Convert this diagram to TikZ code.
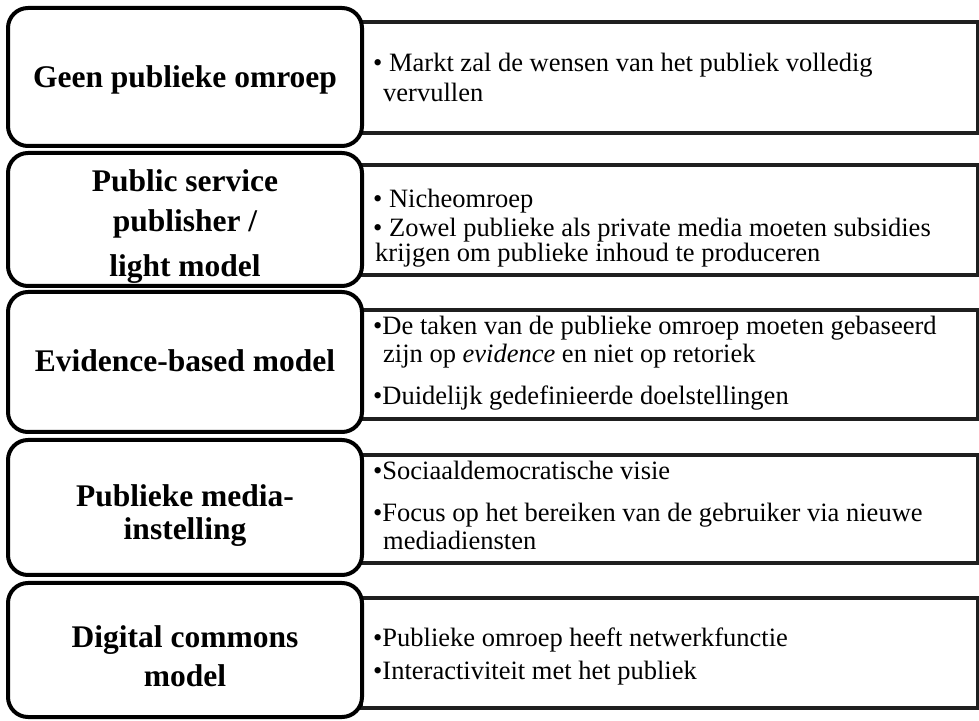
\documentclass[tikz,border=0pt]{standalone}
\usepackage{fontspec}
\setmainfont{Liberation Serif}
\begin{document}
\begin{tikzpicture}[x=1pt,y=1pt]
\tikzset{
  lbox/.style={draw=black, line width=4pt, rounded corners=20pt, fill=white,
               minimum width=354pt, inner sep=0pt, outer sep=0pt},
  rbox/.style={draw=black!88, line width=4pt, minimum width=617pt,
               inner sep=0pt, outer sep=0pt},
  ttl/.style={font=\bfseries\fontsize{31.5}{36}\selectfont, inner sep=0pt, anchor=base},
  txt/.style={font=\fontsize{26.5}{30}\selectfont, inner sep=0pt, anchor=base west},
}
\useasboundingbox (0,0) rectangle (979,720);

% right-hand description panels
\node[rbox, minimum height=111pt] (R1) at (669.5,642.5) {};
\node[rbox, minimum height=110pt] (R2) at (669.5,500) {};
\node[rbox, minimum height=109pt] (R3) at (669.5,355.5) {};
\node[rbox, minimum height=108pt] (R4) at (669.5,211) {};
\node[rbox, minimum height=110pt] (R5) at (669.5,67) {};

% left-hand model boxes
\node[lbox, minimum height=138pt] (L1) at (185,643) {};
\node[lbox, minimum height=133pt] (L2) at (185,500.5) {};
\node[lbox, minimum height=140pt] (L3) at (185,358) {};
\node[lbox, minimum height=135pt] (L4) at (185,212.5) {};
\node[lbox, minimum height=134pt] (L5) at (185,70) {};

% model names
\node[ttl] (t1) at (185,632) {Geen publieke omroep};
\node[ttl] (t2a) at (185,528) {Public service};
\node[ttl] (t2b) at (185,488) {publisher /};
\node[ttl] (t2c) at (185,443) {light model};
\node[ttl] (t3) at (185,348) {Evidence-based model};
\node[ttl] (t4a) at (185,213) {Publieke media-};
\node[ttl] (t4b) at (185,180) {instelling};
\node[ttl] (t5a) at (185,73) {Digital commons};
\node[ttl] (t5b) at (185,34) {model};

% descriptions
\node[txt] (d1a) at (373,648) {\textbullet\ Markt zal de wensen van het publiek volledig};
\node[txt] (d1b) at (383,618) {vervullen};

\node[txt] (d2a) at (373,512) {\textbullet\ Nicheomroep};
\node[txt] (d2b) at (373,483) {\textbullet\ Zowel publieke als private media moeten subsidies};
\node[txt] (d2c) at (375,458) {krijgen om publieke inhoud te produceren};

\node[txt] (d3a) at (373,385) {\textbullet De taken van de publieke omroep moeten gebaseerd};
\node[txt] (d3b) at (383,357) {zijn op \textit{evidence} en niet op retoriek};
\node[txt] (d3c) at (373,315) {\textbullet Duidelijk gedefinieerde doelstellingen};

\node[txt] (d4a) at (373,240) {\textbullet Sociaaldemocratische visie};
\node[txt] (d4b) at (373,198) {\textbullet Focus op het bereiken van de gebruiker via nieuwe};
\node[txt] (d4c) at (383,170) {mediadiensten};

\node[txt] (d5a) at (373,74) {\textbullet Publieke omroep heeft netwerkfunctie};
\node[txt] (d5b) at (373,41) {\textbullet Interactiviteit met het publiek};
\end{tikzpicture}
\end{document}
